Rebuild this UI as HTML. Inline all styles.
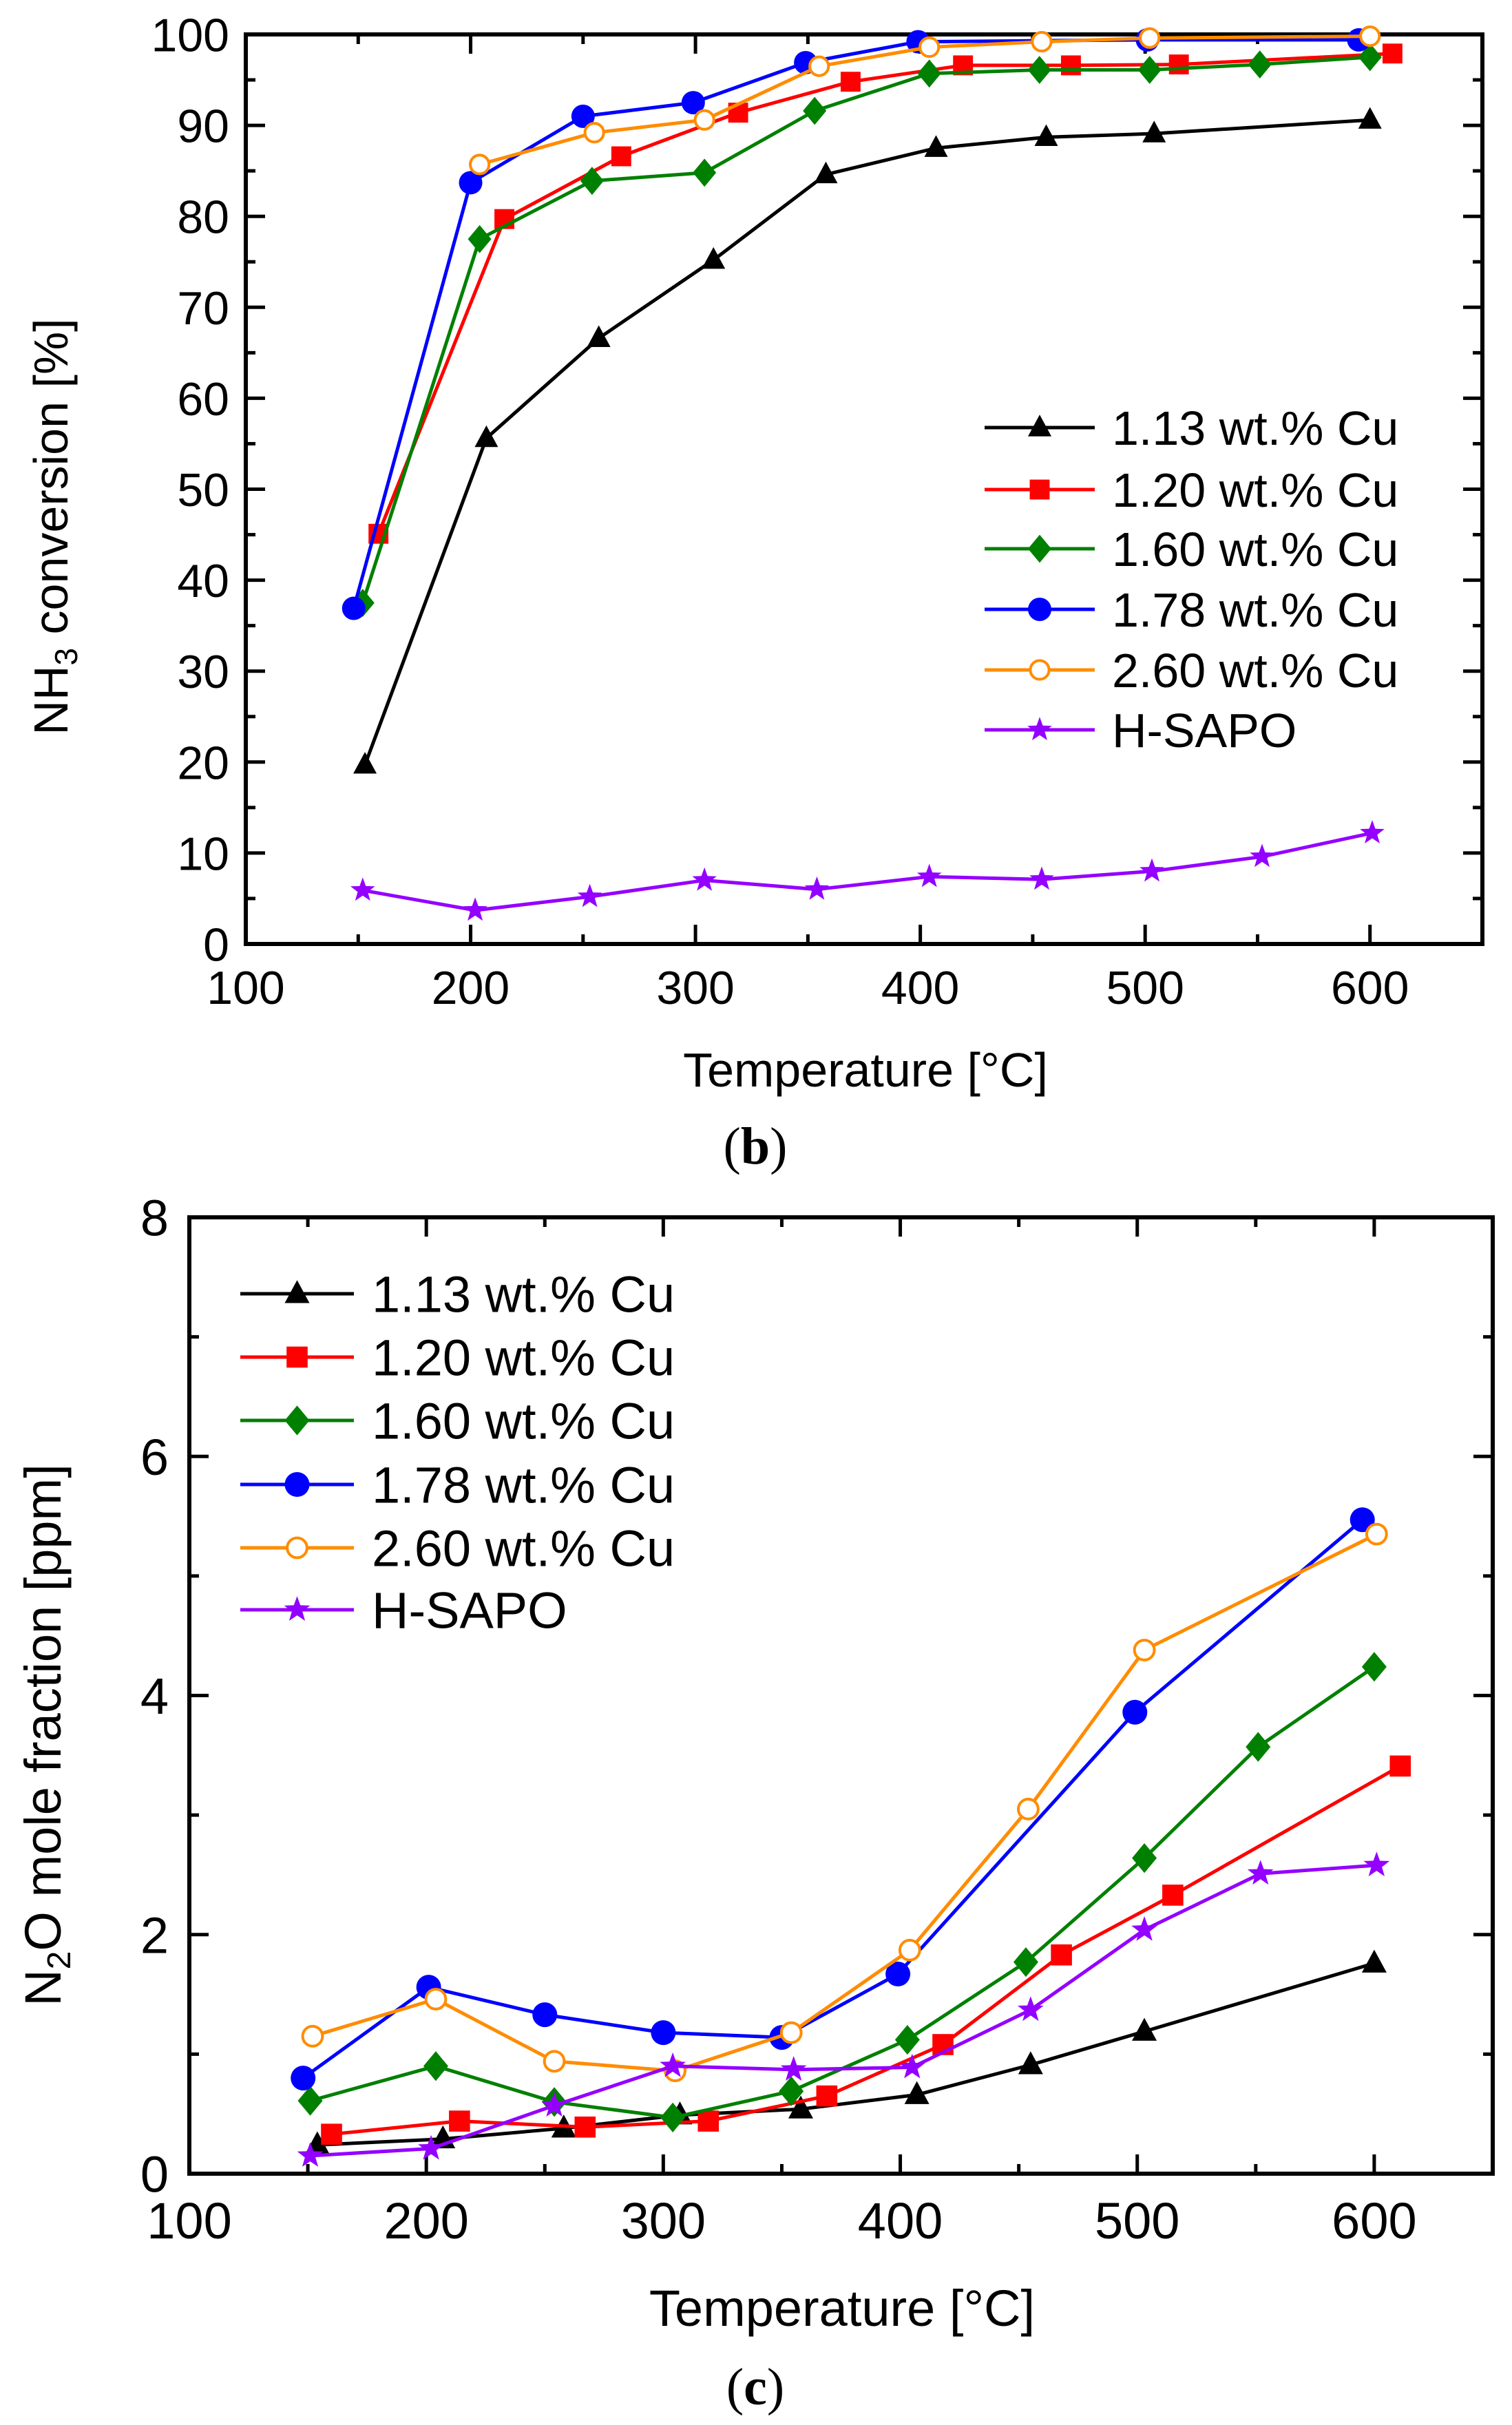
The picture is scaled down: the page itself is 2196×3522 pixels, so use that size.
<!DOCTYPE html>
<html><head><meta charset="utf-8"><style>
html,body{margin:0;padding:0;background:#fff;}
svg{display:block;font-family:"Liberation Sans",Arial,sans-serif;}
</style></head><body>
<svg id="fig" width="2196" height="3522" viewBox="0 0 2196 3522" xmlns="http://www.w3.org/2000/svg"></svg>
<script>
// ---- data: chart (b) NH3 conversion ----
const seriesNames = ["1.13 wt.% Cu","1.20 wt.% Cu","1.60 wt.% Cu","1.78 wt.% Cu","2.60 wt.% Cu","H-SAPO"];
const seriesColors = ["#000000","#ff0000","#008000","#0000ff","#ff8c00","#9400ff"];
const seriesMarkers = ["triangle","square","diamond","circle","opencircle","star"];
const bT_113 = [153,207,257,308,358,407,456,504,600];
const bV_113 = [19.7,55.6,66.6,75.2,84.6,87.5,88.7,89.1,90.6];
const bT_120 = [159,215,267,319,369,419,467,515,610];
const bV_120 = [45.1,79.7,86.6,91.4,94.8,96.6,96.6,96.7,97.9];
const bT_160 = [152,204,254,304,353,404,453,502,551,600];
const bV_160 = [37.5,77.5,83.9,84.8,91.6,95.7,96.1,96.1,96.7,97.5];
const bT_178 = [148,200,250,299,349,399,501,595];
const bV_178 = [36.9,83.7,91.0,92.5,96.9,99.2,99.4,99.4];
const bT_260 = [204,255,304,355,404,454,502,600];
const bV_260 = [85.7,89.2,90.6,96.5,98.6,99.2,99.6,99.8];
const bT_hs = [152,202,253,304,354,404,454,503,552,601];
const bV_hs = [5.9,3.7,5.2,7.0,6.0,7.4,7.1,8.0,9.6,12.2];
const bXTicks = [100,200,300,400,500,600];
const bYTicks = [0,10,20,30,40,50,60,70,80,90,100];
// ---- data: chart (c) N2O ----
const cT_113 = [154,207,258,307,358,407,455,503,600];
const cV_113 = [0.24,0.29,0.38,0.49,0.54,0.66,0.91,1.19,1.76];
const cT_120 = [160,214,267,319,369,418,468,515,611];
const cV_120 = [0.33,0.44,0.39,0.44,0.65,1.08,1.83,2.33,3.41];
const cT_160 = [151,204,254,304,354,403,453,503,551,600];
const cV_160 = [0.61,0.90,0.60,0.47,0.69,1.12,1.77,2.64,3.57,4.24];
const cT_178 = [148,201,250,300,350,399,499,595];
const cV_178 = [0.80,1.56,1.33,1.18,1.14,1.67,3.86,5.47];
const cT_260 = [152,204,254,305,354,404,454,503,601];
const cV_260 = [1.15,1.46,0.94,0.86,1.18,1.87,3.05,4.38,5.35];
const cT_hs = [151,202,254,304,355,405,455,503,552,601];
const cV_hs = [0.15,0.21,0.57,0.90,0.87,0.89,1.37,2.04,2.51,2.58];
const cXTicks = [100,200,300,400,500,600];
const cYTicks = [0,2,4,6,8];

const NS="http://www.w3.org/2000/svg";
const svg=document.getElementById('fig');
function el(tag,attrs,parent){const e=document.createElementNS(NS,tag);for(const k in attrs)e.setAttribute(k,attrs[k]);(parent||svg).appendChild(e);return e;}

function marker(g,type,x,y,color,s){
  let m;
  if(type==="triangle") m=el('polygon',{points:`${x},${y-s*1.1} ${x-s},${y+s*0.75} ${x+s},${y+s*0.75}`,fill:color},g);
  else if(type==="square") m=el('rect',{x:x-s*0.85,y:y-s*0.85,width:s*1.7,height:s*1.7,fill:color},g);
  else if(type==="diamond") m=el('polygon',{points:`${x},${y-s*1.2} ${x+s},${y} ${x},${y+s*1.2} ${x-s},${y}`,fill:color},g);
  else if(type==="circle") m=el('circle',{cx:x,cy:y,r:s,fill:color},g);
  else if(type==="opencircle") m=el('circle',{cx:x,cy:y,r:s*0.8,fill:'#fff',stroke:color,'stroke-width':4},g);
  else { let p=[];for(let i=0;i<10;i++){const r=i%2?s*0.45:s*1.1;const a=-Math.PI/2+i*Math.PI/5;p.push((x+r*Math.cos(a)).toFixed(1)+','+(y+r*Math.sin(a)).toFixed(1));}
    m=el('polygon',{points:p.join(' '),fill:color},g);}
  
  
}

function chart(cfg){
  const g=el('g',{});
  
  
  const X=t=>cfg.L+(t-cfg.xmin)/(cfg.xmax-cfg.xmin)*(cfg.R-cfg.L);
  const Y=v=>cfg.B-(v-cfg.ymin)/(cfg.ymax-cfg.ymin)*(cfg.B-cfg.T);
  const tg=el('g',{stroke:'#000','stroke-width':5},g);
  
  
  for(let t=cfg.xmin;t<=cfg.xmax;t+=cfg.xminor){const major=(t%cfg.xmajor===0);const len=major?28:14;const x=X(t);
    el('line',{x1:x,y1:cfg.B,x2:x,y2:cfg.B-len},tg);el('line',{x1:x,y1:cfg.T,x2:x,y2:cfg.T+len},tg);}
  for(let v=cfg.ymin;v<=cfg.ymax+1e-9;v+=cfg.yminor){const major=Math.abs(v/cfg.ymajor-Math.round(v/cfg.ymajor))<1e-6;const len=major?28:14;const y=Y(v);
    el('line',{x1:cfg.L,y1:y,x2:cfg.L+len,y2:y},tg);el('line',{x1:cfg.R,y1:y,x2:cfg.R-len,y2:y},tg);}
  const fr=el('rect',{x:cfg.L,y:cfg.T,width:cfg.R-cfg.L,height:cfg.B-cfg.T,fill:'none',stroke:'#000','stroke-width':6},g);
  
  
  cfg.xticks.forEach(t=>{const tx=el('text',{x:X(t),y:cfg.xlabY,'font-size':cfg.fs,'text-anchor':'middle'},g);tx.textContent=t;
    
    });
  cfg.yticks.forEach(v=>{const tx=el('text',{x:cfg.ylabX,y:Y(v)+cfg.fs*0.36,'font-size':cfg.fs,'text-anchor':'end'},g);tx.textContent=v;
    
    });
  cfg.series.forEach((s,i)=>{
    const sg=el('g',{},g);
    
    
    const pts=s[0].map((t,j)=>X(t).toFixed(1)+','+Y(s[1][j]).toFixed(1)).join(' ');
    el('polyline',{points:pts,fill:'none',stroke:seriesColors[i],'stroke-width':5,'stroke-linejoin':'round'},sg);
    s[0].forEach((t,j)=>marker(sg,seriesMarkers[i],X(t),Y(s[1][j]),seriesColors[i],cfg.ms));
  });
  const lg=el('g',{},g);
  
  
  seriesNames.forEach((n,i)=>{
    const y=cfg.legY[i];
    const eg=el('g',{},lg);
    
    
    el('line',{x1:cfg.legX1,y1:y,x2:cfg.legX2,y2:y,stroke:seriesColors[i],'stroke-width':5},eg);
    marker(eg,seriesMarkers[i],(cfg.legX1+cfg.legX2)/2,y,seriesColors[i],cfg.ms);
    const tx=el('text',{x:cfg.legTX,y:y+cfg.lfs*0.36,'font-size':cfg.lfs},eg);tx.textContent=n;
  });
  const xt=el('text',{x:cfg.xtX,y:cfg.xtY,'font-size':cfg.tfs,'text-anchor':'middle'},g);xt.textContent='Temperature [°C]';
  
  
  const yt=el('text',{x:0,y:0,'font-size':cfg.tfs,'text-anchor':'middle',transform:`translate(${cfg.ytX},${cfg.ytY}) rotate(-90)`},g);
  yt.innerHTML=cfg.ytitle;
  
  
  const pl=el('text',{x:cfg.pX,y:cfg.pY,'font-size':76,'text-anchor':'middle','font-family':'Liberation Serif, serif'},g);
  pl.innerHTML='(<tspan font-weight="bold">'+cfg.panel+'</tspan>)';
  
  
}

chart({name:'chart-nh3-conversion',L:357,R:2153,T:50,B:1371,xmin:100,xmax:650,ymin:0,ymax:100,
  xmajor:100,xminor:50,ymajor:10,yminor:5,xticks:bXTicks,yticks:bYTicks,fs:68,ms:17,
  xlabY:1458,ylabX:333,
  series:[[bT_113,bV_113],[bT_120,bV_120],[bT_160,bV_160],[bT_178,bV_178],[bT_260,bV_260],[bT_hs,bV_hs]],
  legY:[621,711,797,885,973,1060],legX1:1430,legX2:1590,legTX:1615,lfs:70,
  xtX:1257,xtY:1578,tfs:70,ytX:98,ytY:765,
  ytitle:'NH<tspan font-size="46" dy="14">3</tspan><tspan dy="-14"> conversion [%]</tspan>',
  panel:'b',pX:1097,pY:1690});
chart({name:'chart-n2o-fraction',L:275,R:2168,T:1768,B:3157,xmin:100,xmax:650,ymin:0,ymax:8,
  xmajor:100,xminor:50,ymajor:2,yminor:1,xticks:cXTicks,yticks:cYTicks,fs:74,ms:18,
  xlabY:3251,ylabX:245,
  series:[[cT_113,cV_113],[cT_120,cV_120],[cT_160,cV_160],[cT_178,cV_178],[cT_260,cV_260],[cT_hs,cV_hs]],
  legY:[1879,1971,2063,2156,2248,2338],legX1:349,legX2:514,legTX:540,lfs:74,
  xtX:1223,xtY:3378,tfs:74,ytX:88,ytY:2520,
  ytitle:'N<tspan font-size="48" dy="14">2</tspan><tspan dy="-14">O mole fraction [ppm]</tspan>',
  panel:'c',pX:1097,pY:3492});
</script>
</body></html>
